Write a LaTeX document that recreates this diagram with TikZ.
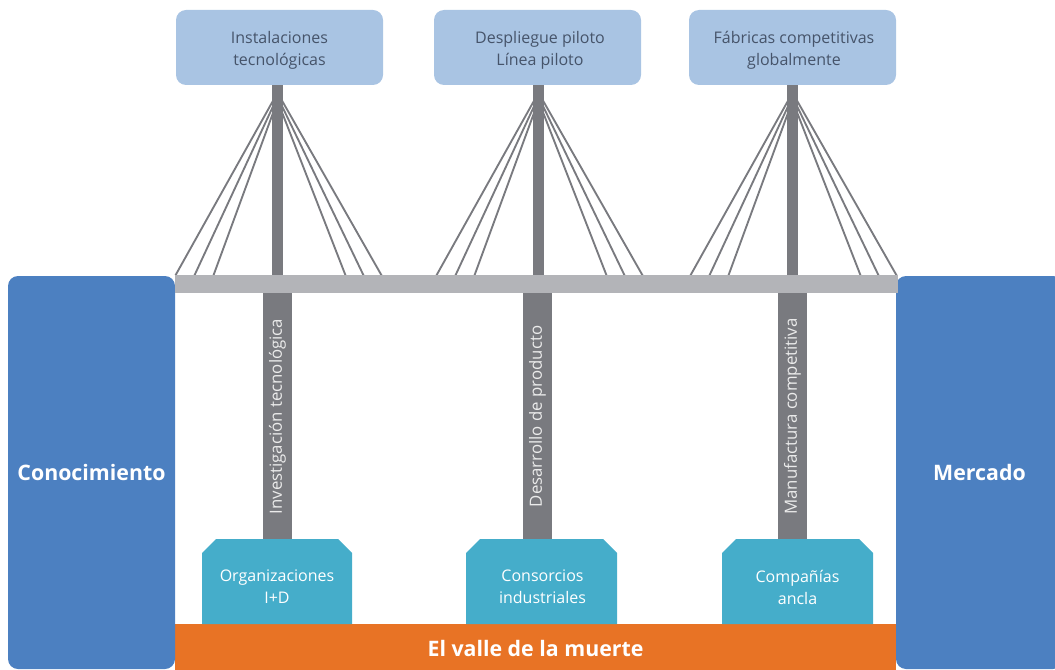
\documentclass[tikz,border=0pt]{standalone}
\usepackage{fontspec}
\setmainfont{Open Sans}
\definecolor{topblue}{HTML}{A9C4E3}
\definecolor{toptext}{HTML}{46546A}
\definecolor{towergray}{HTML}{797A7F}
\definecolor{deckgray}{HTML}{B3B4B8}
\definecolor{sideblue}{HTML}{4C80C1}
\definecolor{blockcyan}{HTML}{45ADCA}
\definecolor{valleorange}{HTML}{E87325}
\begin{document}
\begin{tikzpicture}[x=0.75pt, y=-0.75pt,
		topbox/.style={shape=rectangle, fill=topblue, rounded corners=7.5pt, minimum width=155.25pt, minimum height=56.25pt},
		toplabel/.style={align=center, text=toptext, font=\fontsize{12}{16.5}\selectfont},
		tower/.style={shape=rectangle, fill=towergray, inner sep=0pt, minimum width=8.25pt, minimum height=142.5pt},
		cable/.style={draw=towergray, line width=1.4pt},
		pillar/.style={shape=rectangle, fill=towergray, inner sep=0pt, rotate=90, minimum width=185.25pt, minimum height=21.75pt, text=white!92!black, font=\fontsize{12.6}{14}\selectfont},
		sidebox/.style={shape=rectangle, fill=sideblue, rounded corners=7.5pt, minimum width=125.25pt, minimum height=294.75pt, text=white, font=\fontsize{16}{19}\bfseries\selectfont},
		block/.style={fill=blockcyan},
		blocktext/.style={align=center, text=white, font=\fontsize{12}{16.5}\selectfont}]
		\useasboundingbox (0,0) rectangle (1055,670);

		% Valle
		\node[shape=rectangle, fill=valleorange, minimum width=540.75pt, minimum height=36pt, text=white, font=\fontsize{16}{19}\bfseries\selectfont] (valle) at (535.5,648) {El valle de la muerte};

		% Orillas
		\node[sidebox] (conoc) at (91.5,472.5) {Conocimiento};
		\node[sidebox] (merc) at (979.5,472.5) {Mercado};

		% Metas
		\node[topbox] (inst) at (279.5,47.5) {};
		\node[topbox] (despl) at (537.5,47.5) {};
		\node[topbox] (fabr) at (792.5,47.5) {};
		\node[toplabel] (instl) at (279.5,50) {Instalaciones\\tecnológicas};
		\node[toplabel] (despll) at (540,50) {Despliegue piloto\\Línea piloto};
		\node[toplabel] (fabrl) at (794,50) {Fábricas competitivas\\globalmente};

		% Torres
		\node[tower] (tw1) at (277.5,180) {};
		\node[tower] (tw2) at (538.5,180) {};
		\node[tower] (tw3) at (792.5,180) {};

		% Tirantes
		\foreach \t in {tw1,tw2,tw3}
			\foreach \dx/\dy in {-76.5/6, -62.25/9, -48/12, 51/12, 64.5/9, 78/6}
				\draw[cable] ([yshift=-\dy pt]\t.north) -- ([xshift=\dx pt]\t.south);
		\foreach \t in {tw1,tw2,tw3}
			\node[tower] at (\t) {};

		% Tablero
		\node[shape=rectangle, fill=deckgray, inner sep=0pt, minimum width=542.25pt, minimum height=13.5pt] (deck) at (536.5,284) {};

		% Pilares
		\node[pillar] (p1) at (277.5,416.5) {Investigación tecnológica};
		\node[pillar] (p2) at (537.5,416.5) {Desarrollo de producto};
		\node[pillar] (p3) at (792.5,416.5) {Manufactura competitiva};

		% Bases
		\fill[block] (202,624) -- (202,553) -- (216,539) -- (338,539) -- (352,553) -- (352,624) -- cycle;
		\fill[block] (466,624) -- (466,553) -- (480,539) -- (603,539) -- (617,553) -- (617,624) -- cycle;
		\fill[block] (722,624) -- (722,553) -- (736,539) -- (859,539) -- (873,553) -- (873,624) -- cycle;
		\node[blocktext] (orgs) at (277,587) {Organizaciones\\I+D};
		\node[blocktext] (cons) at (542.5,587) {Consorcios\\industriales};
		\node[blocktext] (comp) at (797.5,587) {Compañías\\ancla};
	\end{tikzpicture}
\end{document}
